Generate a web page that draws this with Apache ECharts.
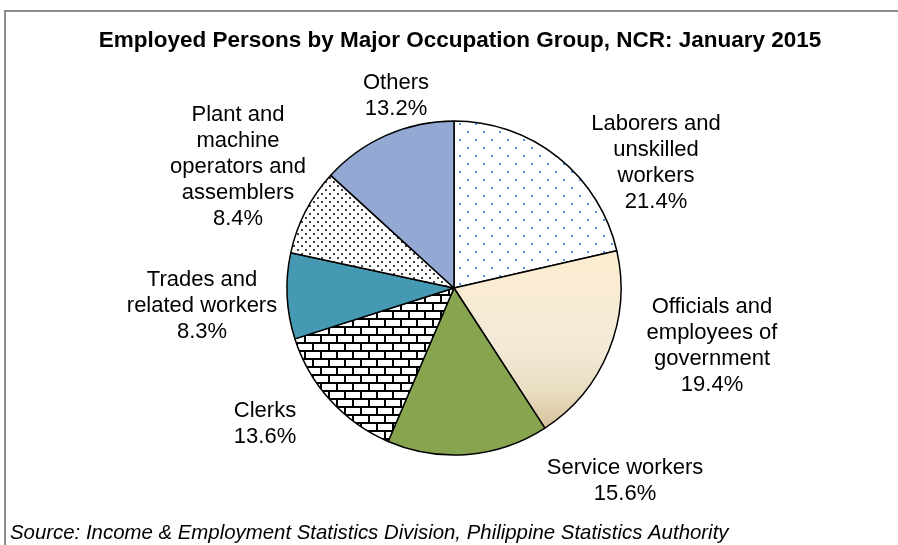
<!DOCTYPE html>
<html>
<head>
<meta charset="utf-8">
<script src="https://cdn.jsdelivr.net/npm/echarts@6/dist/echarts.min.js"></script>
<style>
  html, body { margin: 0; padding: 0; background: #fff; }
  #chart { width: 898px; height: 545px; }
</style>
</head>
<body>
<div id="chart"></div>
<script>
// data, clockwise from 12 o'clock
const groups = [
  'Laborers and\nunskilled\nworkers',
  'Officials and\nemployees of\ngovernment',
  'Service workers',
  'Clerks',
  'Trades and\nrelated workers',
  'Plant and\nmachine\noperators and\nassemblers',
  'Others',
];
const shares = [21.4, 19.4, 15.6, 13.6, 8.3, 8.4, 13.2];

// where the Excel labels sit (text block centres)
const labelAt = [[656, 163], [712, 346], [625, 481], [265, 424], [202, 306], [238, 167], [396, 96]];

// small canvas tiles for the hatched fills
function tile(w, h, draw) {
  const c = document.createElement('canvas');
  c.width = w; c.height = h;
  const g = c.getContext('2d');
  g.fillStyle = '#fff';
  g.fillRect(0, 0, w, h);
  draw(g);
  return { image: c, repeat: 'repeat' };
}
const blueDots = tile(16, 16, (g) => {
  g.fillStyle = '#5f8fd6';
  g.fillRect(3, 3, 2, 2);
  g.fillRect(11, 11, 2, 2);
});
const blackDots = tile(8, 8, (g) => {
  g.fillStyle = '#444';
  g.fillRect(1, 1, 2, 2);
  g.fillRect(5, 5, 2, 2);
});
const bricks = tile(16, 16, (g) => {
  g.fillStyle = '#000';
  g.fillRect(0, 6, 16, 2);
  g.fillRect(0, 14, 16, 2);
  g.fillRect(0, 0, 2, 8);
  g.fillRect(8, 8, 2, 8);
});
const cream = new echarts.graphic.LinearGradient(0, 0, 0, 1, [
  { offset: 0, color: '#fdeed1' },
  { offset: 0.55, color: '#f3e9d7' },
  { offset: 0.8, color: '#e8dcc0' },
  { offset: 1, color: '#d5c19b' },
]);
const fills = [blueDots, cream, '#87a44f', bricks, '#4599b3', blackDots, '#93a8d3'];

const chart = echarts.init(document.getElementById('chart'), null, { renderer: 'canvas' });
chart.setOption({
  animation: false,
  title: {
    text: 'Employed Persons by Major Occupation Group, NCR: January 2015',
    left: 455,
    top: 24,
    textAlign: 'center',
    textStyle: { fontFamily: 'Liberation Sans', fontWeight: 'bold', fontSize: 22.5, color: '#000' },
  },
  graphic: [
    {
      type: 'polyline',
      shape: { points: [[5, 545], [5, 11], [898, 11]] },
      style: { stroke: '#8c8c8c', lineWidth: 2, fill: null },
    },
    {
      type: 'text',
      left: 10,
      top: 523,
      style: {
        text: 'Source: Income & Employment Statistics Division, Philippine Statistics Authority',
        font: 'italic 20.4px "Liberation Sans"',
        fill: '#000',
      },
    },
  ],
  series: [{
    type: 'pie',
    center: [454, 288],
    radius: 167,
    startAngle: 90,
    clockwise: true,
    avoidLabelOverlap: false,
    itemStyle: { borderColor: '#000', borderWidth: 1.5 },
    label: {
      position: 'outside',
      formatter: '{b}\n{c}%',
      fontFamily: 'Liberation Sans',
      fontSize: 22,
      lineHeight: 26,
      color: '#000',
      align: 'center',
    },
    labelLine: { show: false },
    labelLayout: (p) => ({
      x: labelAt[p.dataIndex][0],
      y: labelAt[p.dataIndex][1],
      align: 'center',
      verticalAlign: 'middle',
    }),
    emphasis: { disabled: true },
    data: groups.map((name, i) => ({ name, value: shares[i], itemStyle: { color: fills[i] } })),
  }],
});
</script>
</body>
</html>
